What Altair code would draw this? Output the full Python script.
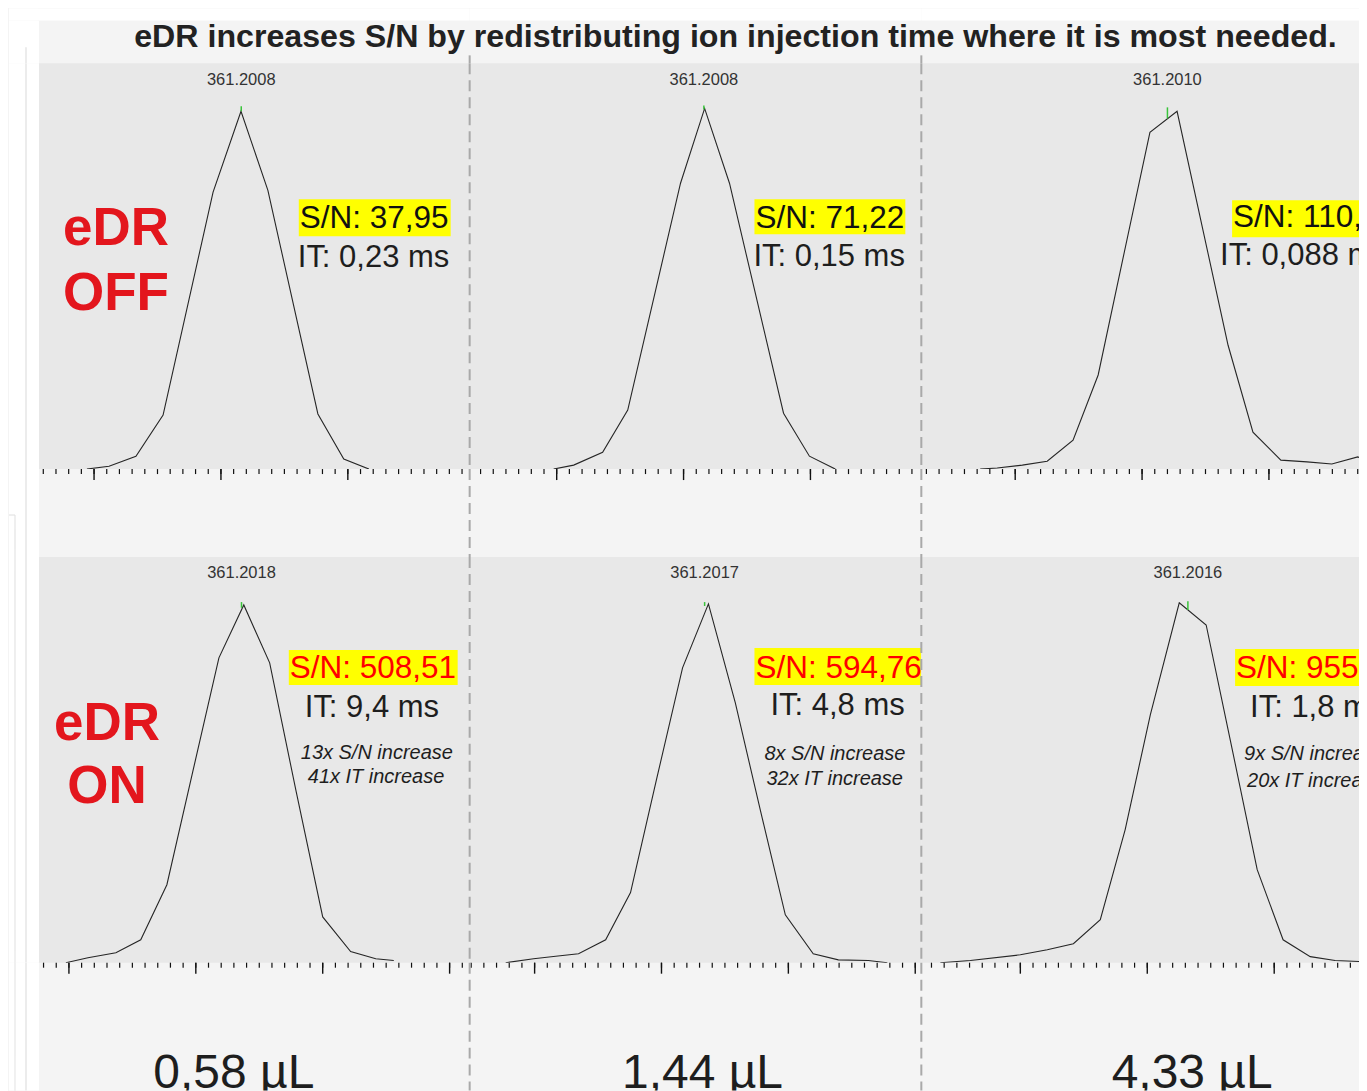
import altair as alt
import numpy as np
import pandas as pd

FONT = "Liberation Sans"
TITLE = "eDR increases S/N by redistributing ion injection time where it is most needed."

# ---------------- data ----------------
# m/z windows of the six panels (row 1 = eDR OFF, row 2 = eDR ON)
r1_lo = [361.19283, 361.19157, 361.19130]
r1_hi = [361.20980, 361.20937, 361.20855]
r2_lo = [361.19382, 361.19244, 361.19110]
r2_hi = [361.21079, 361.21024, 361.20834]

# profile points, relative intensity (%)
off1_mz = [361.19472, 361.19559, 361.19665, 361.19772, 361.19969, 361.20079, 361.20185, 361.20382, 361.20484, 361.20583]
off1_int = [0, 0.8, 3.6, 15.1, 77.4, 100.0, 77.9, 15.4, 2.8, 0]

off2_mz = [361.19488, 361.19567, 361.19681, 361.19780, 361.19988, 361.20083, 361.20181, 361.20394, 361.20496, 361.20598]
off2_int = [0, 1.1, 4.7, 16.5, 79.9, 100.8, 79.9, 15.6, 3.6, 0]

off3_mz = [361.19362, 361.19429, 361.19528, 361.19626, 361.19728, 361.19827, 361.19929, 361.20031, 361.20138,
           361.20240, 361.20339, 361.20437, 361.20547, 361.20650, 361.20748, 361.20850, 361.20953]
off3_int = [0, 0.3, 1.1, 2.2, 8.1, 26.3, 60.3, 94.1, 100.0, 66.8, 34.6, 10.3, 2.5, 2.0, 1.4, 3.4, 0.8]

on1_mz = [361.19488, 361.19575, 361.19685, 361.19783, 361.19886, 361.19988, 361.20091, 361.20189, 361.20291,
          361.20394, 361.20500, 361.20610, 361.20709, 361.20780]
on1_int = [0, 1.4, 2.8, 6.4, 21.8, 53.4, 85.2, 100.0, 83.8, 48.3, 12.8, 3.1, 1.1, 0.6]

on2_mz = [361.19386, 361.19496, 361.19583, 361.19673, 361.19780, 361.19878, 361.19980, 361.20083, 361.20185,
          361.20291, 361.20390, 361.20488, 361.20598, 361.20697, 361.20815, 361.20890]
on2_int = [0, 1.1, 1.8, 2.5, 6.4, 19.6, 51.1, 82.4, 100.3, 72.6, 42.5, 13.4, 2.5, 0.8, 0.6, 0]

on3_mz = [361.19185, 361.19303, 361.19500, 361.19606, 361.19709, 361.19815, 361.19913, 361.20012, 361.20126,
          361.20232, 361.20335, 361.20433, 361.20535, 361.20642, 361.20740, 361.20839, 361.20937]
on3_int = [0, 0.6, 2.2, 3.6, 5.3, 12.0, 37.2, 69.3, 100.6, 94.4, 59.5, 26.0, 6.4, 1.7, 0.6, 0.3, 0]

# centroid (label) m/z and the short green marker span (intensity %)
cen_r1 = [361.2008, 361.2008, 361.2010]
cen_r1_top = [101.4, 101.6, 101.1]
cen_r1_bot = [100.0, 100.5, 98.0]
cen_r2 = [361.2018, 361.2017, 361.2016]
cen_r2_top = [100.8, 100.8, 101.0]
cen_r2_bot = [99.2, 99.7, 98.6]

sn_r1 = ["S/N: 37,95", "S/N: 71,22", "S/N: 110,35"]
it_r1 = ["IT: 0,23 ms", "IT: 0,15 ms", "IT: 0,088 ms"]
sn_r2 = ["S/N: 508,51", "S/N: 594,76", "S/N: 955,18"]
it_r2 = ["IT: 9,4 ms", "IT: 4,8 ms", "IT: 1,8 ms"]
gain_sn = ["13x S/N increase", "8x S/N increase", "9x S/N increase"]
gain_it = ["41x IT increase", "32x IT increase", "20x IT increase"]
volumes = ["0,58 µL", "1,44 µL", "4,33 µL"]
row_labels = [["eDR", "OFF"], ["eDR", "ON"]]

MINOR_STEP = 0.0005
MAJOR_STEP = 0.005

# ---------------- layout ----------------
COL_W = [431, 452, 438]
LEFT_W = 30
TOP_H = 12
TITLE_H = 43
PANEL_H = 406
GAP_H = 88
FOOT_H = 128
Y_MAX = 113.4

GRAY = "#e8e8e8"
LIGHT = "#f4f4f4"
DASH = "#a9a9a9"
RED_LABEL = "#e3161d"
INK = "#1e1e1e"

one = pd.DataFrame({"k": [0]})


def txt(s, x, y, size, color=INK, align="left", weight="normal", style="normal", clip=True):
    return alt.Chart(one).mark_text(
        text=s, align=align, baseline="alphabetic", fontSize=size, color=color,
        fontWeight=weight, fontStyle=style, font=FONT, clip=clip,
    ).encode(x=alt.value(x), y=alt.value(y))


def box(x1, x2, y1, y2, color, opacity=1.0):
    return alt.Chart(one).mark_rect(color=color, clip=True, opacity=opacity).encode(
        x=alt.value(x1), x2=alt.value(x2), y=alt.value(y1), y2=alt.value(y2))


def vrule(x, y1, y2, color=DASH, width=2, dash=(11, 6)):
    return alt.Chart(one).mark_rule(color=color, strokeWidth=width, strokeDash=list(dash)).encode(
        x=alt.value(x), y=alt.value(y1), y2=alt.value(y2))


def hrule(x1, x2, y, color, width=1):
    return alt.Chart(one).mark_rule(color=color, strokeWidth=width).encode(
        x=alt.value(x1), x2=alt.value(x2), y=alt.value(y))


def cell(w, h, layers, fill=None):
    items = list(layers) if layers else [box(0, w, 0, h, "#ffffff", opacity=0)]
    vb = alt.ViewBackground(fill=fill, strokeWidth=0) if fill else alt.ViewBackground(strokeWidth=0)
    return alt.layer(*items).properties(width=w, height=h, view=vb)


def tick_values(lo, hi, step):
    k0 = int(np.ceil(lo / step - 1e-6))
    k1 = int(np.floor(hi / step + 1e-6))
    return [round(k * step, 5) for k in range(k0, k1 + 1)]


def peak_panel(c, mz, inten, lo, hi, cen, ctop, cbot, lab_y, annots):
    xs = alt.Scale(domain=[lo, hi], nice=False, zero=False)
    ys = alt.Scale(domain=[0, Y_MAX], nice=False, zero=False)
    df = pd.DataFrame({"mz": mz, "inten": inten})
    layers = list(annots)
    layers.append(alt.Chart(df).mark_line(color="#262626", strokeWidth=1.1, clip=True).encode(
        x=alt.X("mz:Q", scale=xs, axis=alt.Axis(title=None, labels=False, ticks=False, grid=False,
                                                 domain=True, domainColor="#111111", domainWidth=1.4)),
        y=alt.Y("inten:Q", scale=ys, axis=None)))
    minor = pd.DataFrame({"mz": tick_values(lo, hi, MINOR_STEP)})
    major = pd.DataFrame({"mz": tick_values(lo, hi, MAJOR_STEP)})
    layers.append(alt.Chart(minor).mark_rule(color="#111111", strokeWidth=1.2).encode(
        x=alt.X("mz:Q", scale=xs, axis=None), y=alt.value(PANEL_H), y2=alt.value(PANEL_H + 5)))
    layers.append(alt.Chart(major).mark_rule(color="#111111", strokeWidth=1.4).encode(
        x=alt.X("mz:Q", scale=xs, axis=None), y=alt.value(PANEL_H), y2=alt.value(PANEL_H + 11)))
    cdf = pd.DataFrame({"mz": [cen], "top": [ctop], "bot": [cbot], "lab": [f"{cen:.4f}"]})
    layers.append(alt.Chart(cdf).mark_rule(color="#39c43a", strokeWidth=1.5).encode(
        x=alt.X("mz:Q", scale=xs, axis=None),
        y=alt.Y("top:Q", scale=ys, axis=None), y2="bot:Q"))
    layers.append(alt.Chart(cdf).mark_text(fontSize=16.5, color="#333333", baseline="alphabetic",
                                           font=FONT).encode(
        x=alt.X("mz:Q", scale=xs, axis=None), y=alt.value(lab_y), text="lab:N"))
    if c > 0:
        layers.append(vrule(0, 0, PANEL_H))
    return cell(COL_W[c], PANEL_H, layers, fill=GRAY)


def band(c, h, layers):
    items = list(layers)
    if c > 0:
        items.append(vrule(0, 0, h))
    return cell(COL_W[c], h, items)


# annotation placement (pixels inside each panel)
R1_BOX = [(260, 412, 136, 173), (285, 436, 136, 171), (311, 481, 137, 174)]
R1_SN = [(261, 165), (286, 165), (312, 164)]
R1_IT = [(259, 204), (284, 203), (299, 202)]
R2_BOX = [(250, 419, 93, 128), (285, 454, 91, 128), (314, 483, 92, 129)]
R2_SN = [(251, 121), (286, 121), (315, 121)]
R2_IT = [(266, 160), (301, 158), (329, 160)]
R2_G1 = [(262, 202), (295, 203), (323, 203)]
R2_G2 = [(269, 226), (297, 228), (326, 230)]
VOL_X = [195, 233, 271]

off_mz = [off1_mz, off2_mz, off3_mz]
off_int = [off1_int, off2_int, off3_int]
on_mz = [on1_mz, on2_mz, on3_mz]
on_int = [on1_int, on2_int, on3_int]

row_top, row_title, row1, row_gap, row2, row_foot = [], [], [], [], [], []

# left white strip with its faint frame lines
FAINT = "#ececec"
FRAME = "#dedede"
row_top.append(cell(LEFT_W, TOP_H, [], fill="white"))
row_title.append(cell(LEFT_W, TITLE_H, [vrule(17, 27, TITLE_H, color=FAINT, dash=(1, 0))], fill="white"))
row1.append(cell(LEFT_W, PANEL_H, [vrule(17, 0, PANEL_H, color=FAINT, dash=(1, 0))], fill="white"))
row_gap.append(cell(LEFT_W, GAP_H, [vrule(17, 0, GAP_H, color=FAINT, dash=(1, 0)),
                                    vrule(6, 46, GAP_H, color=FRAME, width=1, dash=(1, 0)),
                                    hrule(0, 6, 46, FRAME)], fill="white"))
row2.append(cell(LEFT_W, PANEL_H, [vrule(17, 0, PANEL_H, color=FAINT, dash=(1, 0)),
                                   vrule(6, 0, PANEL_H, color=FRAME, width=1, dash=(1, 0))], fill="white"))
row_foot.append(cell(LEFT_W, FOOT_H, [vrule(17, 0, FOOT_H, color=FAINT, dash=(1, 0)),
                                      vrule(6, 0, FOOT_H, color=FRAME, width=1, dash=(1, 0))], fill="white"))

for c in range(3):
    row_top.append(cell(COL_W[c], TOP_H, [], fill="white"))
    tl = []
    if c == 1:
        tl.append(txt(TITLE, 266, 27, 32.2, color="#222222", align="center", weight="bold", clip=False))
    if c > 0:
        tl.append(vrule(0, 35, TITLE_H))
    row_title.append(cell(COL_W[c], TITLE_H, tl))

    a1 = [box(*R1_BOX[c], "#ffff00"),
          txt(sn_r1[c], R1_SN[c][0], R1_SN[c][1], 31.5, color="#111111"),
          txt(it_r1[c], R1_IT[c][0], R1_IT[c][1], 31, color=INK)]
    a2 = [box(*R2_BOX[c], "#ffff00"),
          txt(sn_r2[c], R2_SN[c][0], R2_SN[c][1], 31.5, color="#ff0000"),
          txt(it_r2[c], R2_IT[c][0], R2_IT[c][1], 31, color=INK),
          txt(gain_sn[c], R2_G1[c][0], R2_G1[c][1], 20, color=INK, style="italic"),
          txt(gain_it[c], R2_G2[c][0], R2_G2[c][1], 20, color=INK, style="italic")]
    if c == 0:
        a1 += [txt(row_labels[0][0], 77, 182, 53, color=RED_LABEL, align="center", weight="bold"),
               txt(row_labels[0][1], 77, 247, 53, color=RED_LABEL, align="center", weight="bold")]
        a2 += [txt(row_labels[1][0], 68, 183, 53, color=RED_LABEL, align="center", weight="bold"),
               txt(row_labels[1][1], 68, 246, 53, color=RED_LABEL, align="center", weight="bold")]
    row1.append(peak_panel(c, off_mz[c], off_int[c], r1_lo[c], r1_hi[c],
                           cen_r1[c], cen_r1_top[c], cen_r1_bot[c], 22, a1))
    row_gap.append(band(c, GAP_H, []))
    row2.append(peak_panel(c, on_mz[c], on_int[c], r2_lo[c], r2_hi[c],
                           cen_r2[c], cen_r2_top[c], cen_r2_bot[c], 21, a2))
    row_foot.append(band(c, FOOT_H, [txt(volumes[c], VOL_X[c], 125, 48, color=INK, align="center")]))

cells = row_top + row_title + row1 + row_gap + row2 + row_foot

chart = alt.concat(*cells, columns=4, spacing=0, bounds="flush", align="each").properties(
    background=LIGHT, padding=0
).configure_view(strokeWidth=0)

chart.save("out.html", embed_options={"renderer": "svg", "actions": False})
